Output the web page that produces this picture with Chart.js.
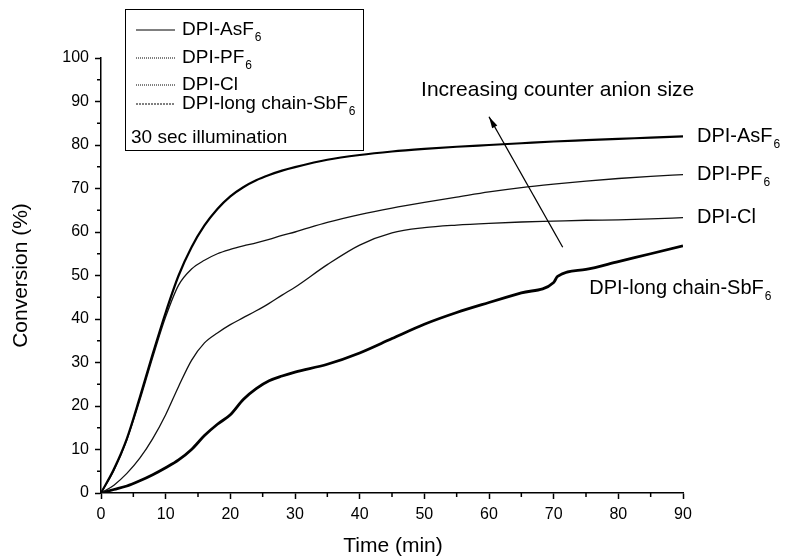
<!DOCTYPE html>
<html>
<head>
<meta charset="utf-8">
<script src="https://cdn.jsdelivr.net/npm/chart.js@4.4.1/dist/chart.umd.min.js"></script>
<style>
  html, body { margin: 0; padding: 0; background: #fff; }
</style>
</head>
<body>
<canvas id="chart1" width="786" height="559"></canvas>
<script>
// time axis (min) shared by three curves
const timeMin = [0, 2, 4, 6, 8, 10, 12, 14, 16, 18, 20, 22, 24, 26, 28, 30, 35, 40, 45, 50, 55, 60, 65, 70, 75, 80, 85, 90];
const asf6 = [0, 5.5, 12.5, 22, 32, 41.5, 50, 56.5, 61.5, 65.3, 68.2, 70.3, 71.9, 73.1, 74.1, 74.9, 76.6, 77.7, 78.5, 79.1, 79.6, 80, 80.4, 80.8, 81.1, 81.4, 81.7, 82];
const pf6 = [0, 5.2, 12.2, 21.3, 31.2, 40.5, 47.8, 51.5, 53.5, 55, 56, 56.8, 57.5, 58.3, 59.2, 60, 62.2, 64, 65.5, 66.8, 68, 69.2, 70.2, 71, 71.7, 72.3, 72.8, 73.2];
const cl = [0, 1.8, 4.5, 8, 12.5, 18, 24.5, 30.5, 34.5, 36.8, 38.7, 40.3, 41.9, 43.6, 45.5, 47.3, 52.5, 57, 59.8, 61, 61.6, 62, 62.3, 62.5, 62.7, 62.8, 63, 63.3];
// long chain SbF6 has a small jump near 70 min
const sbTime = [0, 2, 4, 6, 8, 10, 12, 14, 16, 18, 20, 22, 24, 26, 28, 30, 35, 40, 45, 50, 55, 60, 65, 70, 70.6, 75, 80, 85, 90];
const sbf6 = [0, 0.8, 1.6, 2.8, 4.2, 5.8, 7.6, 10, 13.2, 15.8, 18, 21.5, 24, 25.8, 26.9, 27.8, 29.6, 32.2, 35.5, 38.8, 41.5, 43.8, 46, 48.4, 49.8, 51.4, 53.2, 55, 56.8];

const legendNames = ['DPI-AsF', 'DPI-PF', 'DPI-Cl', 'DPI-long chain-SbF'];
const legendSubs = ['6', '6', '', '6'];
const legendNote = '30 sec illumination';
const arrowText = 'Increasing counter anion size';

const FONT = '"Liberation Sans", Arial, sans-serif';

let zip = (xs, ys) => xs.map((x, i) => ({ x: x, y: ys[i] }));

// text with a subscript after it
let subText = (ctx, main, sub, x, y, size) => {
    ctx.font = size + 'px ' + FONT;
    ctx.textAlign = 'left';
    ctx.textBaseline = 'middle';
    ctx.fillText(main, x, y);
    if (sub) {
        let w = ctx.measureText(main).width;
        ctx.font = Math.round(size * 0.62) + 'px ' + FONT;
        ctx.fillText(sub, x + w + 1, y + size * 0.42);
    }
};

const decorations = {
    id: 'decorations',
    afterDraw(chart) {
        const ctx = chart.ctx;
        const xs = chart.scales.x, ys = chart.scales.y;
        const area = chart.chartArea;
        ctx.save();
        ctx.fillStyle = '#000';
        ctx.strokeStyle = '#000';

        // minor ticks
        ctx.lineWidth = 1.5;
        ctx.beginPath();
        for (let v = 5; v < 90; v += 10) {
            let px = xs.getPixelForValue(v);
            ctx.moveTo(px, area.bottom);
            ctx.lineTo(px, area.bottom + 4);
        }
        for (let v = 5; v < 100; v += 10) {
            let py = ys.getPixelForValue(v);
            ctx.moveTo(area.left, py);
            ctx.lineTo(area.left - 4, py);
        }
        ctx.stroke();

        // axis titles
        ctx.font = '21px ' + FONT;
        ctx.textAlign = 'center';
        ctx.textBaseline = 'middle';
        ctx.fillText('Time (min)', 393, 546);
        ctx.save();
        ctx.translate(21, (area.top + area.bottom) / 2);
        ctx.rotate(-Math.PI / 2);
        ctx.fillText('Conversion (%)', 0, 0);
        ctx.restore();

        // legend box
        ctx.lineWidth = 1;
        ctx.strokeRect(125.5, 9.5, 238, 141);
        const rows = [30, 58, 85, 104];
        const dashes = [[], [1, 1], [1, 1], [2, 1]];
        for (let i = 0; i < legendNames.length; i++) {
            ctx.setLineDash(dashes[i]);
            ctx.beginPath();
            ctx.moveTo(136, rows[i]);
            ctx.lineTo(175, rows[i]);
            ctx.stroke();
            ctx.setLineDash([]);
            subText(ctx, legendNames[i], legendSubs[i], 182, rows[i], 19);
        }
        subText(ctx, legendNote, '', 131, 138, 19);

        // curve end labels
        const ends = [[asf6, 'DPI-AsF', '6'], [pf6, 'DPI-PF', '6'], [cl, 'DPI-Cl', '']];
        ends.forEach(e => {
            let last = e[0][e[0].length - 1];
            subText(ctx, e[1], e[2], xs.getPixelForValue(90) + 14, ys.getPixelForValue(last), 20);
        });
        subText(ctx, 'DPI-long chain-SbF', '6', xs.getPixelForValue(75.5), ys.getPixelForValue(47), 20);

        // arrow
        let x1 = xs.getPixelForValue(71.4), y1 = ys.getPixelForValue(56.5);
        let x2 = xs.getPixelForValue(60), y2 = ys.getPixelForValue(86.5);
        ctx.lineWidth = 1.3;
        ctx.beginPath();
        ctx.moveTo(x1, y1);
        ctx.lineTo(x2, y2);
        ctx.stroke();
        let ang = Math.atan2(y2 - y1, x2 - x1);
        ctx.beginPath();
        ctx.moveTo(x2, y2);
        ctx.lineTo(x2 - 12 * Math.cos(ang - 0.25), y2 - 12 * Math.sin(ang - 0.25));
        ctx.lineTo(x2 - 12 * Math.cos(ang + 0.25), y2 - 12 * Math.sin(ang + 0.25));
        ctx.closePath();
        ctx.fill();
        subText(ctx, arrowText, '', xs.getPixelForValue(49.5), ys.getPixelForValue(92.5), 21);

        ctx.restore();
    }
};

const axisCommon = {
    type: 'linear',
    border: { color: '#000', width: 1.5 },
    grid: { drawOnChartArea: false, drawTicks: true, tickLength: 6, tickColor: '#000', tickWidth: 1.5 },
    ticks: { color: '#000', font: { family: FONT, size: 16 } }
};

new Chart(document.getElementById('chart1').getContext('2d'), {
    type: 'line',
    data: {
        datasets: [
            { label: 'DPI-AsF6', data: zip(timeMin, asf6), borderColor: '#000', borderWidth: 2.2 },
            { label: 'DPI-PF6', data: zip(timeMin, pf6), borderColor: '#111', borderWidth: 1.3 },
            { label: 'DPI-Cl', data: zip(timeMin, cl), borderColor: '#111', borderWidth: 1.3 },
            { label: 'DPI-long chain-SbF6', data: zip(sbTime, sbf6), borderColor: '#000', borderWidth: 2.8 }
        ]
    },
    options: {
        responsive: false,
        animation: false,
        layout: { padding: { left: 0, right: 103, top: 58, bottom: 0 } },
        elements: {
            point: { radius: 0 },
            line: { cubicInterpolationMode: 'monotone', fill: false }
        },
        plugins: { legend: { display: false }, tooltip: { enabled: false } },
        scales: {
            x: Object.assign({}, axisCommon, {
                min: 0, max: 90,
                ticks: Object.assign({}, axisCommon.ticks, { stepSize: 10, padding: 6, maxRotation: 0 }),
                afterFit: s => { s.height = 66; }
            }),
            y: Object.assign({}, axisCommon, {
                min: 0, max: 100,
                ticks: Object.assign({}, axisCommon.ticks, { stepSize: 10, padding: 6 }),
                afterFit: s => { s.width = 101; }
            })
        }
    },
    plugins: [decorations]
});
</script>
</body>
</html>
